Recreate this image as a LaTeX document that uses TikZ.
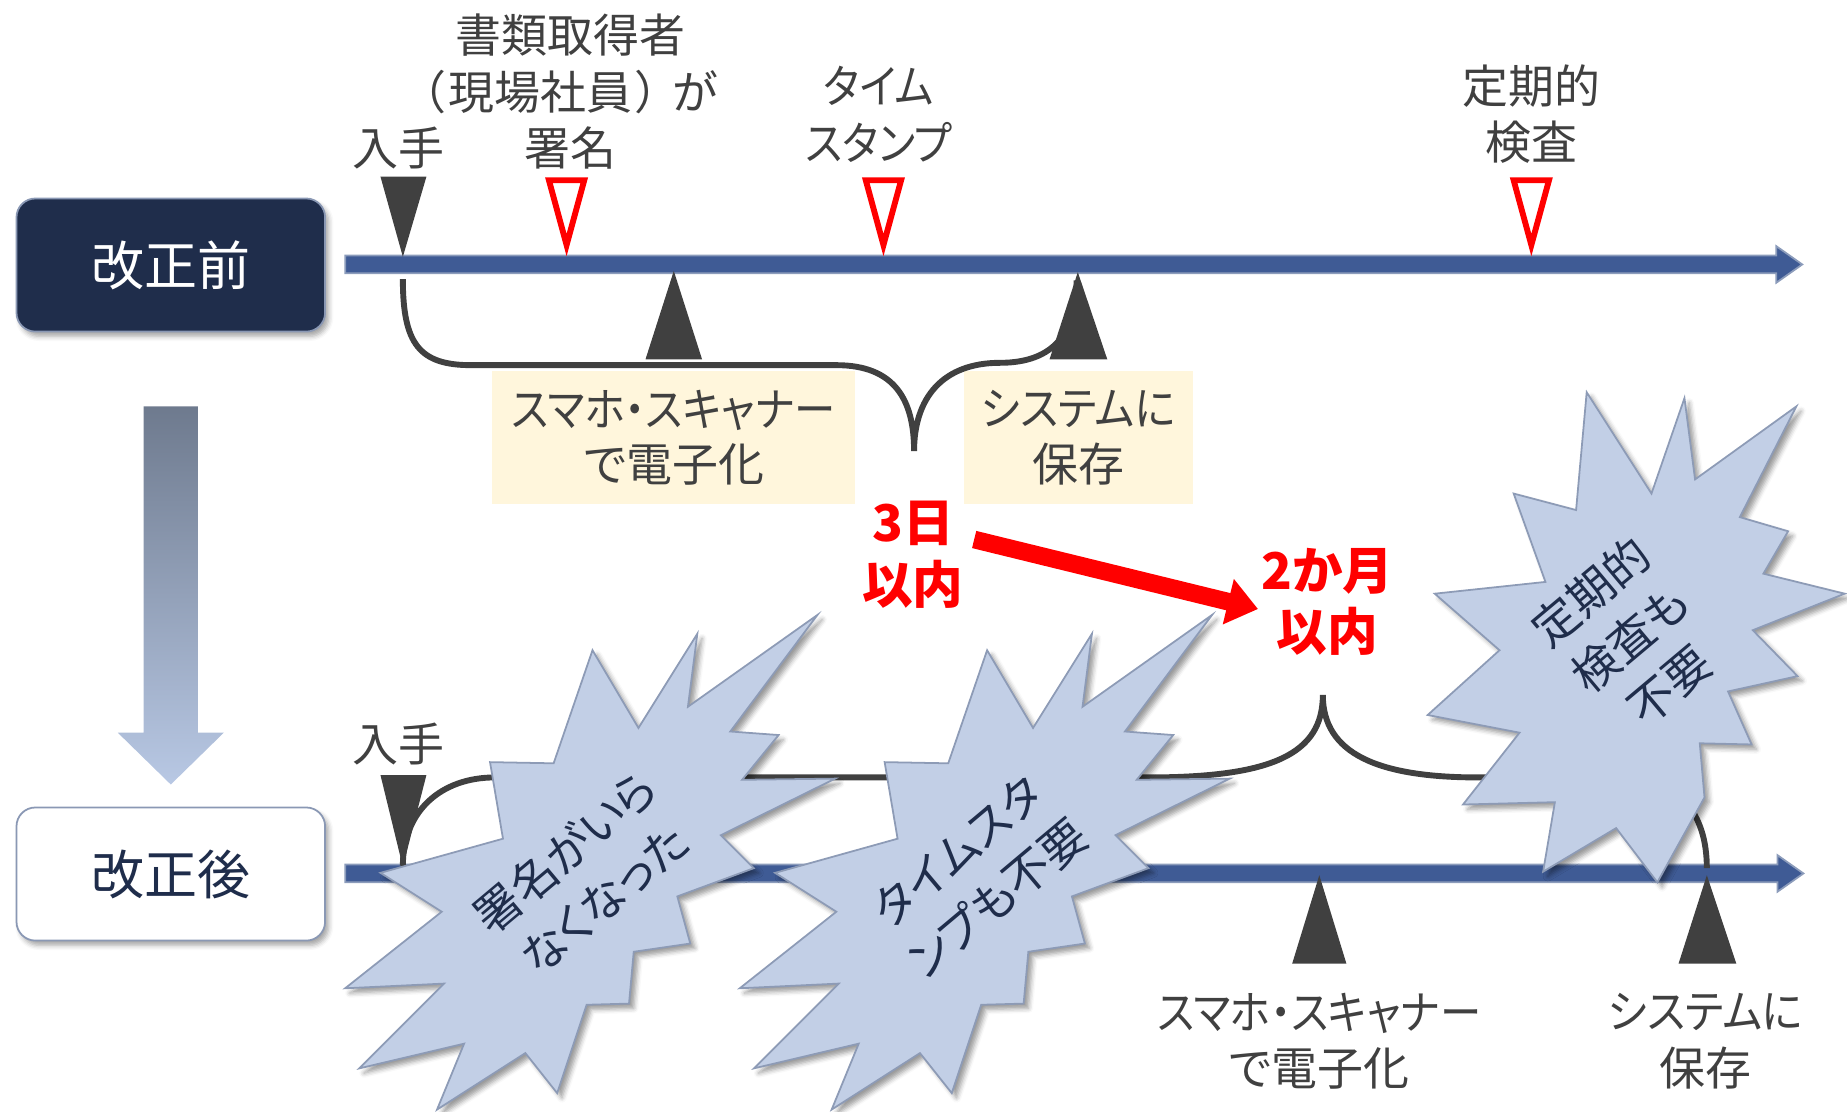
\documentclass[tikz,border=0pt]{standalone}
\usepackage{fontspec}
\usepackage{graphicx}
\newfontfamily\jp{Noto Sans CJK JP}[RawFeature=+palt]
\usetikzlibrary{arrows.meta,shadows.blur}
\newcommand{\narrowkana}[2][0.9]{\scalebox{#1}[1]{#2}}
\definecolor{navy}{HTML}{1F2D4B}
\definecolor{lbl}{HTML}{404040}
\definecolor{bar}{HTML}{3F5B95}
\definecolor{barline}{HTML}{8C9CBB}
\definecolor{burstfill}{HTML}{C2CFE6}
\definecolor{burstline}{HTML}{8D9BB6}
\definecolor{note}{HTML}{FFF6DC}
\definecolor{arrtop}{HTML}{6E7A8E}
\definecolor{arrbot}{HTML}{B8C8E4}
\definecolor{boxline}{HTML}{8A98B4}
\tikzset{
  lbl/.style={font=\jp\fontsize{39}{48}\selectfont, text=lbl, align=center, inner sep=0pt},
  redlbl/.style={font=\jp\bfseries\fontsize{43}{52}\selectfont, text=red, align=center, inner sep=0pt},
  bursttxt/.style={font=\jp\fontsize{39}{52}\selectfont, text=navy, align=center, inner sep=0pt, rotate=40},
  era/.style={rounded corners=16pt, minimum width=262pt, minimum height=113pt, draw=boxline, line width=1.5pt,
    font=\jp\fontsize{45}{54}\selectfont, inner sep=0pt,
    blur shadow={shadow xshift=3pt, shadow yshift=-4pt, shadow blur radius=4pt, shadow opacity=35}},
  notebox/.style={fill=note, minimum height=113pt, font=\jp\fontsize{39}{47}\selectfont, text=lbl, align=center, inner sep=0pt},
  timebar/.style={fill=bar, draw=barline, line width=1.5pt, line join=miter},
  darktri/.style={fill=lbl},
  redtri/.style={draw=red, fill=white, line width=5pt, line join=miter},
  brace/.style={draw=lbl, line width=5pt},
  burst/.style={fill=burstfill, draw=burstline, line width=1.5pt, line join=miter,
    blur shadow={shadow xshift=4pt, shadow yshift=-4pt, shadow blur radius=4pt, shadow opacity=40}},
  redarrow/.style={draw=red, line width=15pt, -{Triangle[width=38pt,length=26pt]}}
}
\begin{document}
\begin{tikzpicture}[x=1pt,y=-1pt]
\useasboundingbox (0,0) rectangle (1568,944);

% era boxes
\node[era, fill=navy, text=white] (before) at (145,225) {改正前};
\node[era, fill=white, text=navy] (after) at (145,742) {改正後};

% down arrow
\shade[top color=arrtop, bottom color=arrbot]
  (122,345) -- (168,345) -- (168,622) -- (190,622) -- (145,666) -- (100,622) -- (122,622) -- cycle;

% top timeline
\path[timebar] (293,217) -- (1508,217) -- (1508,209) -- (1530,224.5) -- (1508,240) -- (1508,232) -- (293,232) -- cycle;
% bottom timeline
\path[timebar] (293,734) -- (1509,734) -- (1509,726) -- (1531,741.5) -- (1509,757) -- (1509,749) -- (293,749) -- cycle;

% top labels
\node[lbl] (t1) at (338,126) {入手};
\node[lbl] (t2) at (484,78) {書類取得者\\（\hspace{3pt}現場社員\hspace{3pt}）\hspace{12pt}が\\署名};
\node[lbl] (t3) at (746,97) {\narrowkana{タイム}\\\narrowkana{スタンプ}};
\node[lbl] (t4) at (1300,97) {定期的\\検査};

% top markers
\path[darktri] (323,150) -- (362,150) -- (342,218) -- cycle;
\path[redtri] (466,153) -- (496,153) -- (481,208) -- cycle;
\path[redtri] (735,153) -- (765,153) -- (750,208) -- cycle;
\path[redtri] (1285,153) -- (1315,153) -- (1300,208) -- cycle;
\path[darktri] (548,305) -- (596,305) -- (572,230) -- cycle;
\path[darktri] (891,305) -- (940,305) -- (915,231) -- cycle;

% note boxes
\node[notebox, minimum width=308pt] (n1) at (572,371.5) {\narrowkana{スマホ・スキャナー}\\で電子化};
\node[notebox, minimum width=195pt] (n2) at (915.5,371.5) {\narrowkana[0.92]{システムに}\\保存};

% top brace
\path[brace] (342,237) .. controls (342,292) and (356,310) .. (400,310) -- (710,310)
  .. controls (760,310) and (776,340) .. (776,383)
  .. controls (776,338) and (800,308) .. (849,308)
  .. controls (895,308) and (914,282) .. (914,238);

% red texts and arrow
\node[redlbl] (d3) at (775,471) {3日\\以内};
\node[redlbl] (m2) at (1127,511) {2か月\\以内};
\coordinate (ra) at (827,458);
\coordinate (rb) at (1068,517);
\draw[redarrow] (ra) -- (rb);

% bottom labels and markers
\node[lbl] (b1) at (338,632) {入手};
\path[darktri] (323,658) -- (362,658) -- (342,736) -- cycle;
\path[darktri] (1097,818) -- (1143,818) -- (1120,743) -- cycle;
\path[darktri] (1425,818) -- (1474,818) -- (1449,743) -- cycle;
\node[lbl] (b2) at (1120,884) {\narrowkana{スマホ・スキャナー}\\で電子化};
\node[lbl] (b3) at (1448,884) {\narrowkana[0.92]{システムに}\\保存};

% bottom brace
\path[brace] (342,735) .. controls (342,688) and (375,660) .. (420,660) -- (975,660)
  .. controls (1080,660) and (1123,640) .. (1123,590)
  .. controls (1123,640) and (1170,660) .. (1255,660) -- (1375,660)
  .. controls (1425,660) and (1449,690) .. (1449,737);

% bursts
\path[burst] (694,522) -- (620,621) -- (661,624) -- (630,662) -- (709,661) -- (612,709) -- (640,737) -- (575,761) -- (586,801) -- (538,808) -- (534,852) -- (498,853) -- (473,928) -- (446,894) -- (371,942) -- (394,886) -- (305,907) -- (377,835) -- (293,839) -- (375,774) -- (323,741) -- (427,712) -- (416,647) -- (470,648) -- (503,552) -- (542,618) -- (592,538) -- (584,600) -- cycle;
\node[bursttxt] (s1) at (496,743) {署名がいら\\なくなった};

\path[burst] (1029,522) -- (955,621) -- (996,624) -- (965,662) -- (1044,661) -- (947,709) -- (975,737) -- (910,761) -- (921,801) -- (873,808) -- (869,852) -- (833,853) -- (808,928) -- (781,894) -- (706,942) -- (729,886) -- (640,907) -- (712,835) -- (628,839) -- (710,774) -- (658,741) -- (762,712) -- (751,647) -- (805,648) -- (838,552) -- (877,618) -- (927,538) -- (919,600) -- cycle;
\node[bursttxt] (s2) at (830,743) {タイムスタ\\ンプも不要};

\path[burst] (1347,333) -- (1402,419) -- (1430,338) -- (1439,407) -- (1525,345) -- (1477,439) -- (1518,451) -- (1497,487) -- (1566,504) -- (1488,535) -- (1526,574) -- (1467,587) -- (1487,632) -- (1443,631) -- (1447,677) -- (1407,749) -- (1372,703) -- (1310,740) -- (1320,681) -- (1242,683) -- (1290,622) -- (1212,607) -- (1273,552) -- (1218,504) -- (1312,494) -- (1285,419) -- (1338,433) -- cycle;
\node[bursttxt] (s3) at (1384,542) {定期的\\検査も\\不要};
\end{tikzpicture}
\end{document}
